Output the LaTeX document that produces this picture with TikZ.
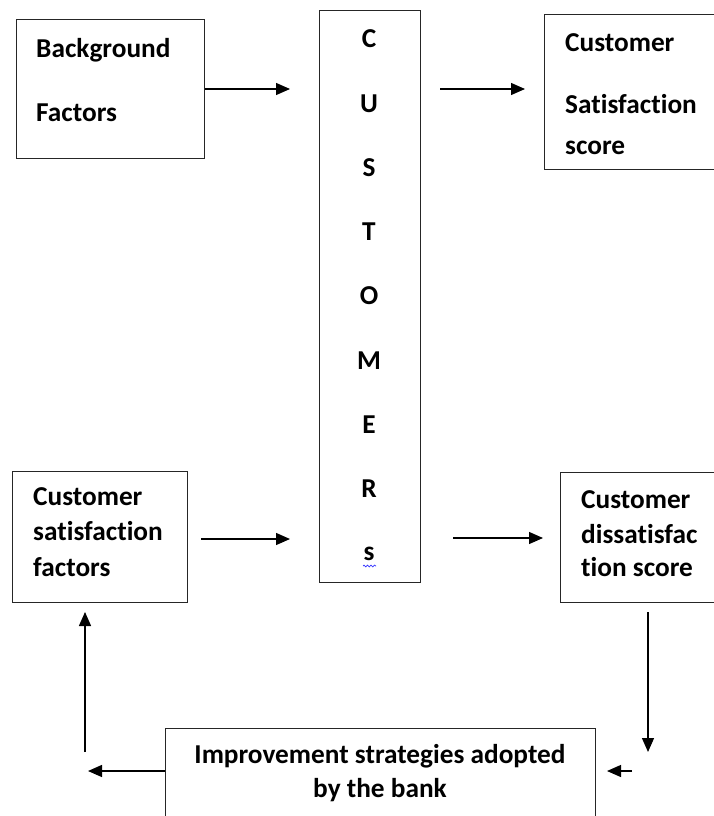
\documentclass[tikz,border=0pt]{standalone}
\usepackage{fontspec}
\setmainfont{Carlito}[Ligatures={NoCommon,NoContextual}]
\usetikzlibrary{arrows.meta,decorations.pathmorphing}
\begin{document}
\begin{tikzpicture}[x=1pt,y=-1pt,
  box/.style={draw=black!85,line width=1.1pt},
  txt/.style={anchor=base west,inner sep=0pt,font=\fontsize{27.3}{31}\selectfont\bfseries},
  letter/.style={anchor=base,inner sep=0pt,font=\fontsize{27.3}{31}\selectfont\bfseries},
  arr/.style={line width=1.3pt,-{Triangle[length=14pt,width=12pt]}}]
\useasboundingbox (0,0) rectangle (713,816);
% boxes
\node[box,inner sep=0pt,anchor=north west,minimum width=188pt,minimum height=139pt] (bf) at (16,19) {};
\node[box,inner sep=0pt,anchor=north west,minimum width=101pt,minimum height=572pt] (cu) at (319,10) {};
\node[box,inner sep=0pt,anchor=north west,minimum width=175pt,minimum height=155pt] (cs) at (544,14) {};
\node[box,inner sep=0pt,anchor=north west,minimum width=175pt,minimum height=131pt] (sf) at (12,471) {};
\node[box,inner sep=0pt,anchor=north west,minimum width=160pt,minimum height=130pt] (ds) at (560,472) {};
\node[box,inner sep=0pt,anchor=north west,minimum width=430pt,minimum height=95pt] (im) at (165,728) {};
% texts
\node[txt] (t1) at (36,57) {Background};
\node[txt] (t2) at (36,121) {Factors};
\node[txt] (t3) at (565,52) {Customer};
\node[txt] (t4) at (565,113) {Satisfaction};
\node[txt] (t5) at (565,154) {score};
\node[txt] (t6) at (33,505) {Customer};
\node[txt] (t7) at (33,540) {satisfaction};
\node[txt] (t8) at (33,576) {factors};
\node[txt] (t9) at (581,508) {Customer};
\node[txt] (t10) at (581,543) {dissatisfac};
\node[txt] (t11) at (581,576) {tion score};
\node[letter] (t12) at (380,763) {Improvement strategies adopted};
\node[letter] (t13) at (380,797) {by the bank};
% CUSTOMERS letters
\foreach \l/\yy [count=\i] in {C/48,U/112,S/176,T/240,O/304,M/369,E/433,R/497,s/560}
  \node[letter] (L\i) at (369,\yy) {\l};
\draw[blue!80,line width=0.7pt,decorate,decoration={snake,amplitude=0.9pt,segment length=3.5pt}] (363,566) -- (376,566);
% coordinates
\coordinate (a1) at (290,89);
\coordinate (b1) at (440,89);
\coordinate (b2) at (525,89);
\coordinate (c1) at (201,539);
\coordinate (c2) at (290,539);
\coordinate (d1) at (453,538);
\coordinate (d2) at (543,538);
\coordinate (e1) at (648,612);
\coordinate (e2) at (648,752);
\coordinate (f1) at (632,771);
\coordinate (f2) at (607,771);
\coordinate (g2) at (88,771);
\coordinate (h1) at (85,752);
\coordinate (h2) at (85,612);
% arrows
\draw[arr] (bf.east |- a1) -- (a1);
\draw[arr] (b1) -- (b2);
\draw[arr] (c1) -- (c2);
\draw[arr] (d1) -- (d2);
\draw[arr] (e1) -- (e2);
\draw[arr] (f1) -- (f2);
\draw[arr] (im.west |- g2) -- (g2);
\draw[arr] (h1) -- (h2);
\end{tikzpicture}
\end{document}
